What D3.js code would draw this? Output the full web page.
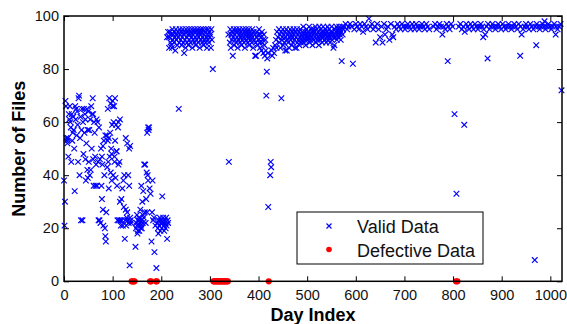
<!DOCTYPE html>
<html><head><meta charset="utf-8">
<script src="https://cdn.jsdelivr.net/npm/d3@7"></script>
<style>body{margin:0;background:#fff}svg{display:block;font-family:"Liberation Sans",Arial,sans-serif}</style>
</head><body><svg id="c" width="567" height="324"></svg>
<script>
// Valid data: [day, number of files]
const earlyValid = [
[0,38],[1,21],[2,30],[3,68],[4,66],[5,54],[6,53],[7,52],[8,54],[9,47],[10,63],[11,61],[12,66],[13,60],[14,58],[15,45],[16,63],[17,53],[18,56],[19,62],[20,57],
[21,50],[22,34],[23,66],[24,61],[25,65],[26,55],[27,64],[28,59],[29,45],[30,69],[31,70],[32,40],[33,54],[34,62],[35,23],[36,57],[37,65],[38,23],[39,60],[40,48],
[41,65],[42,56],[43,63],[44,46],[45,38],[46,52],[47,65],[48,42],[49,39],[50,64],[51,45],[52,57],[53,40],[54,61],[55,42],[56,66],[57,50],[58,63],[59,69],[60,46],
[61,36],[62,60],[63,56],[64,47],[65,36],[66,44],[67,61],[68,36],[69,60],[70,45],[71,23],[72,58],[73,23],[74,46],[75,22],[76,50],[77,36],[78,31],[79,44],[80,27],
[81,21],[82,53],[83,40],[84,20],[85,17],[86,15],[87,26],[88,55],[89,43],[90,65],[91,45],[92,35],[93,69],[94,47],[95,56],[96,41],[97,50],[98,38],[99,59],[100,68],
[101,40],[102,60],[103,66],[104,45],[105,53],[106,39],[107,59],[108,49],[109,36],[110,23],[111,58],[112,44],[113,23],[114,45],[115,30],[116,23],[117,21],[118,31],[119,23],[120,35],
[121,21],[122,38],[123,28],[124,40],[125,16],[126,23],[127,27],[128,21],[129,24],[130,26],[131,23],[132,40],[133,22],[134,36],[135,6],[136,24],[137,23],[138,22],
[80,51],[78,47],[98,48],[104,47],[108,49],[85,55],[90,53],[92,54],[127,54],[130,52],[134,50],[136,51],[112,60],[115,61],[96,67],[100,66],[105,69],[60,63],[44,61],[49,57],
[147,13],[148,20],[149,22],[150,25],[151,18],[152,23],[153,21],[154,24],[155,19],[156,22],[157,27],[158,20],[159,36],[160,23],[161,30],[162,22],[163,34],[164,24],[165,44],[166,26],
[167,44],[168,22],[169,31],[170,41],[171,26],[172,40],[173,38],[174,57],[175,58],[176,35],[178,33],[180,15],[181,26],[182,38],[183,23],[185,24],[186,11],[188,21],[190,5],
[192,22],[193,20],[194,18],[195,23],[196,21],[197,24],[198,19],[199,22],[200,23],[201,20],[202,32],[203,22],[204,24],[205,21],[206,19],[207,23],[208,22],[209,20],[210,24],[211,21],[212,16],[213,23],[214,22],
[171,56],[173,58],[155,23],[158,21],[160,20],[162,25],[152,19],[150,21]
];
const bandValid = [
[212,92],[214,94],[216,92],[216,88],[218,94],[219,90],[220,93],[221,89],[222,88],[223,95],[224,91],[225,93],[226,90],[227,94],[228,92],[229,87],[230,95],[231,91],[232,93],[233,89],[234,94],[235,92],[236,65],[237,90],[238,95],[239,93],[240,91],[241,94],[242,89],[243,92],[244,95],[245,90],[246,93],[247,86],[248,94],[249,91],[250,88],
[251,95],[252,92],[253,90],[254,94],[255,93],[256,89],[257,95],[258,91],[259,93],[260,90],[261,94],[262,92],[263,95],[264,88],[265,93],[266,91],[267,94],[268,90],[269,95],[270,92],[271,89],[272,94],[273,91],[274,93],[275,95],[276,90],[277,92],[278,94],[279,88],[280,93],
[281,95],[282,91],[283,94],[284,90],[285,92],[286,95],[287,89],[288,93],[289,91],[290,94],[291,90],[292,95],[293,92],[294,88],[295,93],[296,91],[297,95],[298,90],[299,94],[300,92],[301,93],[302,88],[303,95],[304,91],[306,80],
[338,93],[339,45],[341,90],[342,95],[343,88],[344,93],[345,91],[346,94],[347,85],[348,92],[349,95],[350,89],[351,93],[352,91],[353,94],[354,90],[355,95],[356,92],[357,88],[358,94],[359,91],[360,93],
[361,95],[362,90],[363,92],[364,94],[365,89],[366,93],[367,91],[368,95],[369,92],[370,90],[371,94],[372,88],[373,93],[374,95],[375,91],[376,92],[377,94],[378,90],[379,93],[380,95],
[381,89],[382,92],[383,94],[384,91],[385,93],[386,90],[387,95],[388,92],[389,88],[390,94],[391,91],[392,93],[393,85],[394,90],[395,85],[396,92],[397,94],[398,89],[399,93],[400,91],
[401,95],[402,90],[403,88],[404,93],[405,92],[406,87],[407,94],[408,90],[409,91],[410,86],[411,93],[412,89],[413,85],[414,91],[415,87],[416,70],[417,79],[418,84],[419,86],[420,28],
[424,40],[425,45],[426,43],[427,87],[428,85],[430,88],[432,86],[434,89],[436,91],[437,88],[438,94],[440,92],
[442,95],[443,90],[444,93],[445,88],[446,94],[447,69],[448,91],[449,92],[450,95],[451,89],[452,93],[453,90],[454,94],[455,87],[456,92],[457,95],[458,87],[459,91],[460,93],
[461,90],[462,94],[463,88],[464,92],[465,95],[466,91],[467,93],[468,89],[469,94],[470,92],[471,90],[472,95],[473,93],[474,91],[475,88],[476,94],[477,92],[478,88],[479,95],[480,90],
[481,93],[482,91],[483,94],[484,89],[485,92],[486,95],[487,90],[488,93],[489,91],[490,94],[491,92],[492,96],[493,90],[494,93],[495,91],[496,94],[497,89],[498,92],[499,95],[500,93],
[501,91],[502,94],[503,92],[504,96],[505,90],[506,93],[507,91],[508,95],[509,92],[510,94],[511,89],[512,93],[513,95],[514,91],[515,94],[516,92],[517,96],[518,90],[519,93],[520,95],
[521,91],[522,94],[523,92],[524,89],[525,96],[526,93],[527,91],[528,95],[529,92],[530,94],[531,90],[532,93],[533,96],[534,92],[535,94],[536,91],[537,95],[538,93],[539,90],[540,94],
[541,92],[542,96],[543,91],[544,93],[545,95],[546,92],[547,90],[548,94],[549,93],[550,96],[551,91],[552,94],[553,92],[554,88],[555,93],[556,89],[557,95],[558,92],[559,94],[560,96],
[561,91],[562,93],[563,95],[564,92],[565,94],[566,96],[567,93],[568,95],[569,91],[570,94],[571,83],[572,96],[573,93],[574,95]
];
const plateauValid = [
[576,96],[579,97],[582,95],[585,96],[588,97],[591,96],[594,82],[597,95],[600,97],[603,96],[606,95],[609,97],[612,96],[615,94],[618,97],[621,96],[624,95],[627,99],[630,96],[633,97],
[636,95],[639,96],[641,90],[644,97],[647,95],[650,92],[653,96],[655,90],[658,97],[660,93],[663,95],[666,96],[669,91],[672,97],[675,93],[677,92],[680,96],[683,95],[686,97],[689,96],
[692,95],[695,97],[698,96],[701,95],[704,96],[707,97],[710,96],[713,95],[716,97],[719,96],[721,95],[724,97],[727,96],[730,95],[733,96],[736,97],[739,96],[742,95],[745,97],[748,96],
[751,95],[760,96],[763,97],[766,95],[769,96],[772,97],[775,96],[778,93],[781,96],[784,95],[787,97],[789,83],[790,96],[793,95],[796,97],[799,96],[803,63],[807,33],[812,96],[815,97],
[818,95],[821,96],[823,59],[824,94],[827,97],[830,96],[833,95],[836,97],[839,96],[842,95],[845,97],[848,96],[851,95],[854,96],[857,97],[860,96],[862,92],[863,95],[866,93],[869,96],
[871,84],[872,97],[875,95],[878,96],[881,97],[884,96],[887,95],[890,96],[893,97],[896,96],[899,95],[902,97],[905,96],[908,95],[911,96],[914,97],[917,96],[920,95],[923,96],[926,97],
[929,96],[932,95],[935,97],[938,85],[939,96],[941,93],[944,95],[947,96],[950,97],[953,96],[956,95],[959,97],[962,96],[965,95],[968,8],[969,96],[971,89],[972,97],[975,96],[978,95],
[981,96],[984,97],[987,96],[988,98],[990,95],[993,96],[996,97],[999,96],[1002,95],[1005,96],[1008,97],[1011,93],[1012,96],[1015,95],[1018,96],[1021,97],[1023,72]
];
// Defective data: days with zero files
const defectDays = [139,141,143,145,177,179,189,191,307,309,311,313,315,317,319,321,323,325,327,329,331,333,335,337,421,806,809];
const xTicks = [0,100,200,300,400,500,600,700,800,900,1000];
const yTicks = [0,20,40,60,80,100];
const legendLabels = ["Valid Data","Defective Data"];

const svg = d3.select("#c");
const L=64, R=562, T=16, B=281.3;
const x = d3.scaleLinear().domain([0,1024]).range([L,R]);
const y = d3.scaleLinear().domain([0,100]).range([B,T]);
const blue="#0000ff", red="#ff0000";

const g = svg.append("g");
const validAll = earlyValid.concat(bandValid, plateauValid);
const s=2.8;
g.selectAll("path.v").data(validAll).enter().append("path")
  .attr("d", d=>{const cx=x(d[0]), cy=y(d[1]); return `M${cx-s},${cy-s}L${cx+s},${cy+s}M${cx-s},${cy+s}L${cx+s},${cy-s}`;})
  .attr("stroke", blue).attr("stroke-width",1.15).attr("fill","none");
g.selectAll("circle.d").data(defectDays).enter().append("circle")
  .attr("cx", d=>x(d)).attr("cy", y(0)).attr("r",3.1).attr("fill",red);

// axes (box with inward ticks)
const tl=5, fmt=d3.format("d");
const axB = d3.axisBottom(x).tickValues(xTicks).tickFormat(fmt).tickSizeInner(-tl).tickSizeOuter(0).tickPadding(8);
const axT = d3.axisTop(x).tickValues(xTicks).tickSizeInner(-tl).tickSizeOuter(0).tickFormat("");
const axL = d3.axisLeft(y).tickValues(yTicks).tickFormat(fmt).tickSizeInner(-tl).tickSizeOuter(0).tickPadding(5);
const axR = d3.axisRight(y).tickValues(yTicks).tickSizeInner(-tl).tickSizeOuter(0).tickFormat("");
function style(sel){sel.selectAll(".domain").remove(); sel.selectAll("line").attr("stroke","#000").attr("stroke-width",1);
  sel.selectAll("text").attr("fill","#111").style("font-size","14.5px").style("font-family","Liberation Sans, Arial, sans-serif");}
svg.append("g").attr("transform",`translate(0,${B})`).call(axB).call(style);
svg.append("g").attr("transform",`translate(0,${T})`).call(axT).call(style);
svg.append("g").attr("transform",`translate(${L},0)`).call(axL).call(style);
svg.append("g").attr("transform",`translate(${R},0)`).call(axR).call(style);
svg.append("rect").attr("x",L).attr("y",T).attr("width",R-L).attr("height",B-T)
  .attr("fill","none").attr("stroke","#000").attr("stroke-width",1.5);

// titles
svg.append("text").attr("x",(L+R)/2).attr("y",321).attr("text-anchor","middle")
  .style("font-weight","bold").style("font-size","18px").text("Day Index");
svg.append("text").attr("transform",`translate(25,${(T+B)/2}) rotate(-90)`).attr("text-anchor","middle")
  .style("font-weight","bold").style("font-size","18px").text("Number of Files");

// legend
const lg = svg.append("g");
lg.append("rect").attr("x",297).attr("y",212).attr("width",186).attr("height",52)
  .attr("fill","#fff").attr("stroke","#000").attr("stroke-width",1);
const lx=329, ly1=226, ly2=249.5;
lg.append("path").attr("d",`M${lx-2.5},${ly1-2.5}L${lx+2.5},${ly1+2.5}M${lx-2.5},${ly1+2.5}L${lx+2.5},${ly1-2.5}`)
  .attr("stroke",blue).attr("stroke-width",1.15);
lg.append("circle").attr("cx",lx).attr("cy",ly2).attr("r",2.8).attr("fill",red);
lg.append("text").attr("x",357).attr("y",233).style("font-size","18px").attr("fill","#111").text(legendLabels[0]);
lg.append("text").attr("x",357).attr("y",256.5).style("font-size","18px").attr("fill","#111").text(legendLabels[1]);
</script></body></html>
